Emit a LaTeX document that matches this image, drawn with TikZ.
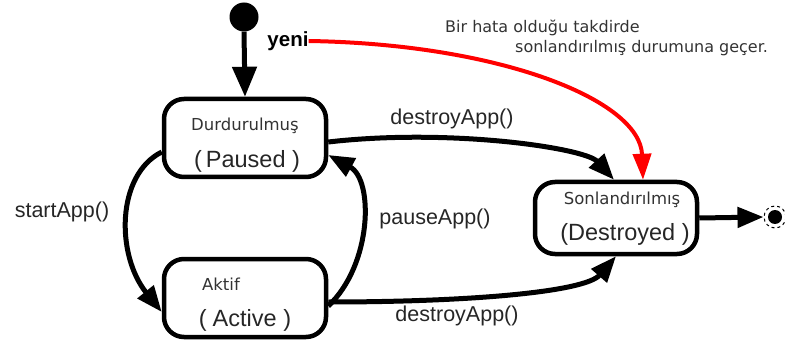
\documentclass[tikz,border=0pt]{standalone}
\usepackage{fontspec}
\setmainfont{Liberation Sans}
\newfontfamily\smallfam{DejaVu Sans}
\usetikzlibrary{arrows.meta}
\definecolor{errred}{RGB}{255,0,0}
\begin{document}
\begin{tikzpicture}[x=1pt,y=-1pt,
  statebox/.style={draw, rounded corners=20pt, line width=4.5pt, minimum width=162pt, minimum height=78pt, inner sep=0pt},
  title/.style={font=\smallfam\fontsize{16.5}{18}\selectfont, text=black!80, inner sep=0pt},
  subtitle/.style={font=\fontsize{23.5}{26}\selectfont, text=black!85, inner sep=0pt},
  lbl/.style={font=\fontsize{21.5}{24}\selectfont, text=black!85, inner sep=0pt},
  note/.style={font=\smallfam\fontsize{16}{18}\selectfont, text=black!80, inner sep=0pt, anchor=west},
  trans/.style={line width=5pt, -{Triangle[length=26pt,width=20pt]}},
  errtrans/.style={line width=4pt, draw=errred, -{Triangle[length=26pt,width=18pt]}}]
\useasboundingbox (0,0) rectangle (785,350);

% states
\node[statebox] (paused) at (245,138) {};
\node[statebox] (active) at (245,298) {};
\node[statebox, minimum height=72pt] (destroyed) at (616,218) {};

\node[title] (pausedT) at (245,126) {Durdurulmuş};
\node[subtitle] (pausedS) at (247,161) {(\hspace{4pt}Paused )};
\node[title] (activeT) at (221,284) {Aktif};
\node[subtitle] (activeS) at (245,320) {(\hspace{6pt}Active )};
\node[title] (destroyedT) at (622,200) {Sonlandırılmış};
\node[subtitle] (destroyedS) at (625,234) {(Destroyed )};

% pseudo states
\node[circle, fill=black, minimum size=29pt, inner sep=0pt] (init) at (244,17) {};
\node[circle, draw=black, dashed, line width=1pt, minimum size=22pt, inner sep=0pt] (finring) at (775,217) {};
\node[circle, fill=black, minimum size=14pt, inner sep=0pt] (fin) at (775,217) {};

% labels
\node[font=\bfseries\fontsize{20.5}{22}\selectfont, inner sep=0pt] (yeni) at (288,41) {yeni};
\node[lbl] (lstart) at (62,212) {startApp()};
\node[lbl] (lpause) at (435,219) {pauseApp()};
\node[lbl] (ldest1) at (452,119) {destroyApp()};
\node[lbl] (ldest2) at (457,316) {destroyApp()};
\node[note] (note1) at (445,28) {Bir hata olduğu takdirde};
\node[note] (note2) at (515,48) {sonlandırılmış durumuna geçer.};

% transitions
\draw[trans, -{Triangle[length=30pt,width=24pt]}] (init.south) -- (paused.north);
\draw[trans] ([yshift=-14pt]paused.west) .. controls (116,175) and (116,255) .. ([yshift=-14pt]active.west);
\draw[trans] ([yshift=-8pt]active.east) .. controls (372,265) and (374,180) .. ([yshift=-17pt]paused.east);
\draw[trans] ([yshift=-4pt]paused.east) .. controls (450,128) and (585,148) .. ([xshift=-2pt]destroyed.north);
\draw[trans] ([yshift=-4pt]active.east) .. controls (470,302) and (585,292) .. (destroyed.south);
\draw[errtrans] (yeni.east) .. controls (500,44) and (640,100) .. ([xshift=27pt]destroyed.north);
\draw[trans] (destroyed.east) -- (finring.west);
\end{tikzpicture}
\end{document}
